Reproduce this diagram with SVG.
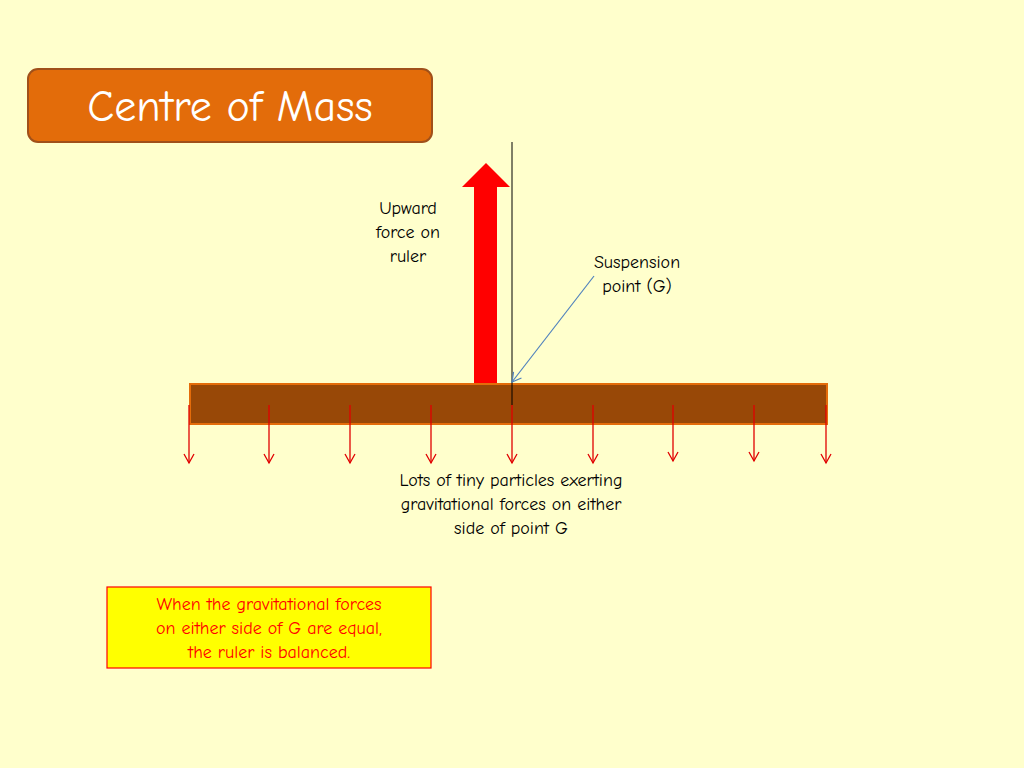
<svg xmlns="http://www.w3.org/2000/svg" width="1024" height="768" viewBox="0 0 1024 768">
<defs>
<style>
text{font-family:"Comic Neue","Open Sans","DejaVu Sans",sans-serif;text-anchor:middle}
.lbl{font-size:18px;fill:#000}
.g{stroke:#E00000;stroke-width:1.3;fill:none;marker-end:url(#ra)}
</style>
<marker id="ra" markerWidth="12" markerHeight="12" refX="10" refY="6" orient="auto" markerUnits="userSpaceOnUse"><path d="M1,1 L10,6 L1,11" fill="none" stroke="#E00000" stroke-width="1.3"/></marker>
<marker id="ba" markerWidth="12" markerHeight="12" refX="10" refY="6" orient="auto" markerUnits="userSpaceOnUse"><path d="M1,1 L10,6 L1,11" fill="none" stroke="#4F81BD" stroke-width="1.2"/></marker>
</defs>
<rect width="1024" height="768" fill="#FFFFCC"/>
<g id="title"><rect x="28" y="69" width="404" height="73" rx="10" fill="#E36C0A" stroke="#A0501A" stroke-width="2"/><text x="230" y="121" style="font-size:44px;fill:#fff">Centre of Mass</text></g>
<g id="ruler"><rect x="190" y="384" width="637" height="40" fill="#984807" stroke="#E46C0A" stroke-width="2"/></g>
<g id="upforce"><path d="M474,383 V187 H462 L486,163 L510,187 H497 V383 Z" fill="#FF0000"/></g>
<g id="connectors">
<line x1="512" y1="142" x2="512" y2="405" stroke="#000" stroke-width="1"/>
<line x1="594" y1="276" x2="512" y2="382" stroke="#4F81BD" stroke-width="1.2" marker-end="url(#ba)"/>
<line class="g" x1="189" y1="405" x2="189" y2="463"/>
<line class="g" x1="269" y1="405" x2="269" y2="463"/>
<line class="g" x1="350" y1="405" x2="350" y2="463"/>
<line class="g" x1="431" y1="405" x2="431" y2="463"/>
<line class="g" x1="512" y1="405" x2="512" y2="463"/>
<line class="g" x1="593" y1="405" x2="593" y2="463"/>
<line class="g" x1="673" y1="405" x2="673" y2="461"/>
<line class="g" x1="754" y1="405" x2="754" y2="461"/>
<line class="g" x1="826" y1="405" x2="826" y2="463"/>
</g>
<g id="upLabel"><text class="lbl" x="408" y="214">Upward</text><text class="lbl" x="408" y="238">force on</text><text class="lbl" x="408" y="262">ruler</text></g>
<g id="suspLabel"><text class="lbl" x="637" y="268">Suspension</text><text class="lbl" x="637" y="292">point (G)</text></g>
<g id="particles"><text class="lbl" x="511" y="486">Lots of tiny particles exerting</text><text class="lbl" x="511" y="510">gravitational forces on either</text><text class="lbl" x="511" y="534">side of point G</text></g>
<g id="note"><rect x="107" y="587" width="324" height="81" fill="#FFFF00" stroke="#FF0000" stroke-width="1.2"/>
<text x="269" y="610" style="font-size:18px;fill:#FF0000">When the gravitational forces</text>
<text x="269" y="634" style="font-size:18px;fill:#FF0000">on either side of G are equal,</text>
<text x="269" y="658" style="font-size:18px;fill:#FF0000">the ruler is balanced.</text></g>
</svg>
